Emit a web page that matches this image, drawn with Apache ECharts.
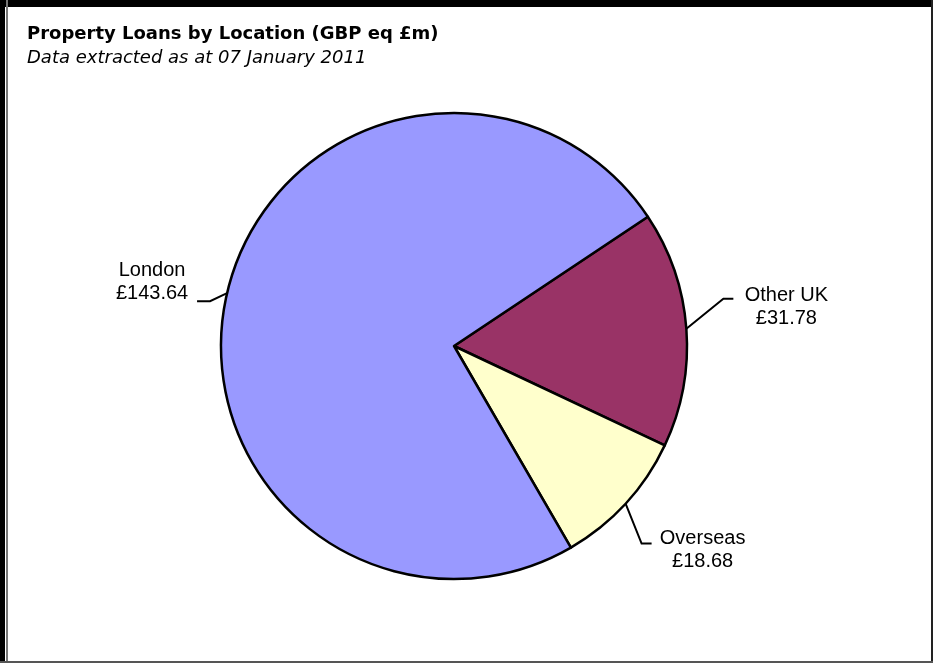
<!DOCTYPE html>
<html>
<head>
<meta charset="utf-8">
<script src="https://cdn.jsdelivr.net/npm/echarts@6/dist/echarts.min.js"></script>
<style>
html,body{margin:0;padding:0;background:#fff;}
#chart{width:933px;height:663px;}
</style>
</head>
<body>
<div id="chart"></div>
<script>
const titleText = 'Property Loans by Location (GBP eq £m)';
const subtitleText = 'Data extracted as at 07 January 2011';
const categories = ['Other UK', 'Overseas', 'London'];
const values = [31.78, 18.68, 143.64];
const sliceColors = ['#993366', '#FFFFCC', '#9999FF'];

// label leader offsets relative to the slice edge point (style only)
const leader = [
  { bx: 37, by: -30, ex: 47, ey: -30, lx: 100, ly: -45 },
  { bx: 16, by: 40, ex: 26, ey: 40, lx: 77, ly: 23 },
  { bx: -17, by: 8, ex: -30, ey: 8, lx: -75, ly: -34 }
];

const chart = echarts.init(document.getElementById('chart'), null, { renderer: 'canvas' });
const center = [454, 346];
const radius = 233;
const startAngle = 33.7;

const total = values.reduce((a, b) => a + b, 0);
function edgePoint(i) {
  let acc = 0;
  for (let k = 0; k < i; k++) acc += values[k];
  const mid = startAngle - (acc + values[i] / 2) / total * 360;
  const r = mid * Math.PI / 180;
  return [center[0] + radius * Math.cos(r), center[1] - radius * Math.sin(r)];
}

chart.setOption({
  animation: false,
  backgroundColor: '#ffffff',
  title: [
    { text: titleText, left: 27, top: 25, padding: 0,
      textStyle: { fontFamily: 'DejaVu Sans', fontWeight: 'bold', fontSize: 18, color: '#000' } },
    { text: subtitleText, left: 27, top: 49, padding: 0,
      textStyle: { fontFamily: 'DejaVu Sans', fontStyle: 'italic', fontWeight: 'normal', fontSize: 18, color: '#000' } }
  ],
  graphic: [
    { type: 'rect', shape: { x: 0, y: 0, width: 933, height: 7 }, style: { fill: '#000' }, silent: true },
    { type: 'rect', shape: { x: 0, y: 0, width: 5, height: 663 }, style: { fill: '#000' }, silent: true },
    { type: 'rect', shape: { x: 6, y: 0, width: 2, height: 663 }, style: { fill: '#777' }, silent: true },
    { type: 'rect', shape: { x: 931, y: 0, width: 2, height: 663 }, style: { fill: '#222' }, silent: true },
    { type: 'rect', shape: { x: 0, y: 661, width: 933, height: 2 }, style: { fill: '#555' }, silent: true }
  ],
  series: [{
    type: 'pie',
    center: center,
    radius: radius,
    startAngle: startAngle,
    clockwise: true,
    avoidLabelOverlap: false,
    data: categories.map((c, i) => ({ name: c, value: values[i], itemStyle: { color: sliceColors[i] } })),
    itemStyle: { borderColor: '#000', borderWidth: 2.5 },
    emphasis: { disabled: true },
    label: {
      show: true,
      formatter: p => p.name + '\n£' + values[p.dataIndex].toFixed(2),
      fontFamily: 'Liberation Sans, Arial, sans-serif',
      fontSize: 20,
      lineHeight: 23,
      color: '#000'
    },
    labelLine: { show: true, length: 15, length2: 10, lineStyle: { color: '#000', width: 2 } },
    labelLayout: function (params) {
      const i = params.dataIndex;
      const s = edgePoint(i);
      const o = leader[i];
      return {
        x: s[0] + o.lx,
        y: s[1] + o.ly,
        align: 'center',
        verticalAlign: 'top',
        labelLinePoints: [s, [s[0] + o.bx, s[1] + o.by], [s[0] + o.ex, s[1] + o.ey]]
      };
    }
  }]
});
</script>
</body>
</html>
